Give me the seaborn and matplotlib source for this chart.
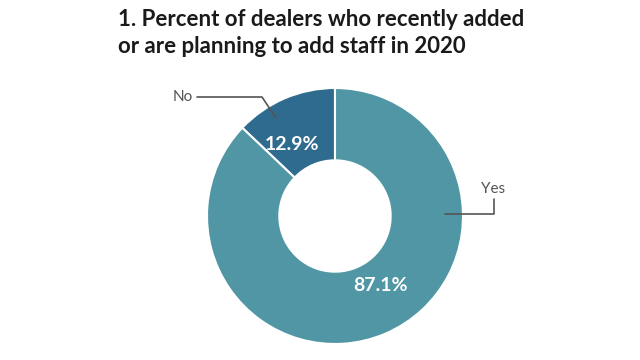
import numpy as np
import matplotlib
matplotlib.use("Agg")
import matplotlib.pyplot as plt
import seaborn as sns

# data
labels = ["No", "Yes"]
values = [12.9, 87.1]
colors = ["#2f6b8f", "#5096a4"]

sns.set_theme(style="white")
plt.rcParams['font.family'] = ['Lato', 'DejaVu Sans']

fig = plt.figure(figsize=(6.4, 3.6), dpi=100)
fig.patch.set_facecolor("white")

# title
fig.text(118 / 640, 1 - 9 / 360, "1. Percent of dealers who recently added\nor are planning to add staff in 2020",
         ha="left", va="top", fontsize=16, fontweight="bold", color="#1a1a1a",
         linespacing=1.35)

# donut axes, center ~ (335,216) px, radius ~128 px
ax = fig.add_axes([207 / 640, 16 / 360, 256 / 640, 256 / 360])
wedges, _ = ax.pie(values, colors=colors, startangle=90, counterclock=True,
                   radius=1.0, wedgeprops=dict(width=0.565, edgecolor="white", linewidth=1.5))
ax.set_xlim(-1, 1)
ax.set_ylim(-1, 1)
ax.set_aspect("equal")
ax.axis("off")

# percentage labels (angle offset from wedge middle)
offsets = [8, 10]
for w, v, off in zip(wedges, values, offsets):
    mid = np.deg2rad((w.theta1 + w.theta2) / 2 + off)
    r = 0.65
    ax.text(r * np.cos(mid), r * np.sin(mid), f"{v}%", color="white",
            fontsize=14, fontweight="bold", ha="center", va="center")

# leader lines
line_kw = dict(color="#555555", linewidth=1.2, clip_on=False)
s = 1 / 128.0
cx, cy = 335, 216
def px(x, y):
    return (x - cx) * s, (cy - y) * s

p = [px(197, 97), px(262, 97), px(276, 118)]
ax.plot([q[0] for q in p], [q[1] for q in p], **line_kw)
ax.text(*px(183, 97), "No", ha="center", va="center", fontsize=11, color="#555555")

p = [px(494, 199), px(494, 214), px(445, 214)]
ax.plot([q[0] for q in p], [q[1] for q in p], **line_kw)
ax.text(*px(493, 189), "Yes", ha="center", va="center", fontsize=11, color="#555555")

fig.savefig("out.png", dpi=100)
